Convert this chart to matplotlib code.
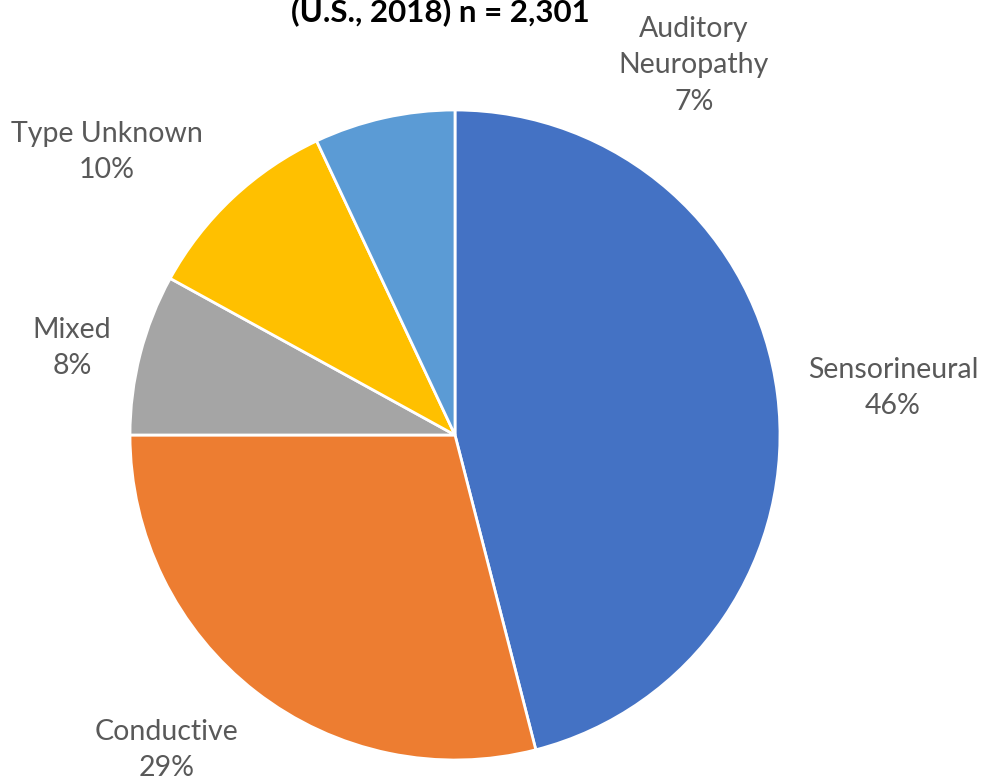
import matplotlib
matplotlib.use("Agg")
import matplotlib.pyplot as plt

# data
categories = ["Sensorineural", "Conductive", "Mixed", "Type Unknown", "Auditory\nNeuropathy"]
shares = [46, 29, 8, 10, 7]
colors = ["#4472C4", "#ED7D31", "#A5A5A5", "#FFC000", "#5B9BD5"]

# label anchor points (pixels in the 985x780 image)
label_px = [(893, 388), (167, 750), (72, 348), (107, 152), (694, 65)]

W, H = 985, 780
cx, cy, r = 455, 435, 325

fig = plt.figure(figsize=(W / 100, H / 100), dpi=100)
ax = fig.add_axes([(cx - r) / W, (H - cy - r) / H, 2 * r / W, 2 * r / H])
ax.pie(shares, colors=colors, startangle=90, counterclock=False, radius=1,
       wedgeprops=dict(edgecolor="white", linewidth=2))
ax.set_xlim(-1, 1)
ax.set_ylim(-1, 1)
ax.set_aspect("equal")
ax.axis("off")

for name, val, (px, py) in zip(categories, shares, label_px):
    fig.text(px / W, 1 - py / H, f"{name}\n{val}%", ha="center", va="center",
             fontsize=20.5, color="#595959", family=["Lato", "DejaVu Sans"],
             linespacing=1.5)

# title sits partly above the top edge, as in the source image
fig.text(440 / W, 1 - 21 / H, "(U.S., 2018) n = 2,301", ha="center", va="baseline",
         fontsize=22.5, fontweight="bold", color="black", family=["Lato", "DejaVu Sans"])

fig.savefig("out.png", dpi=100)
